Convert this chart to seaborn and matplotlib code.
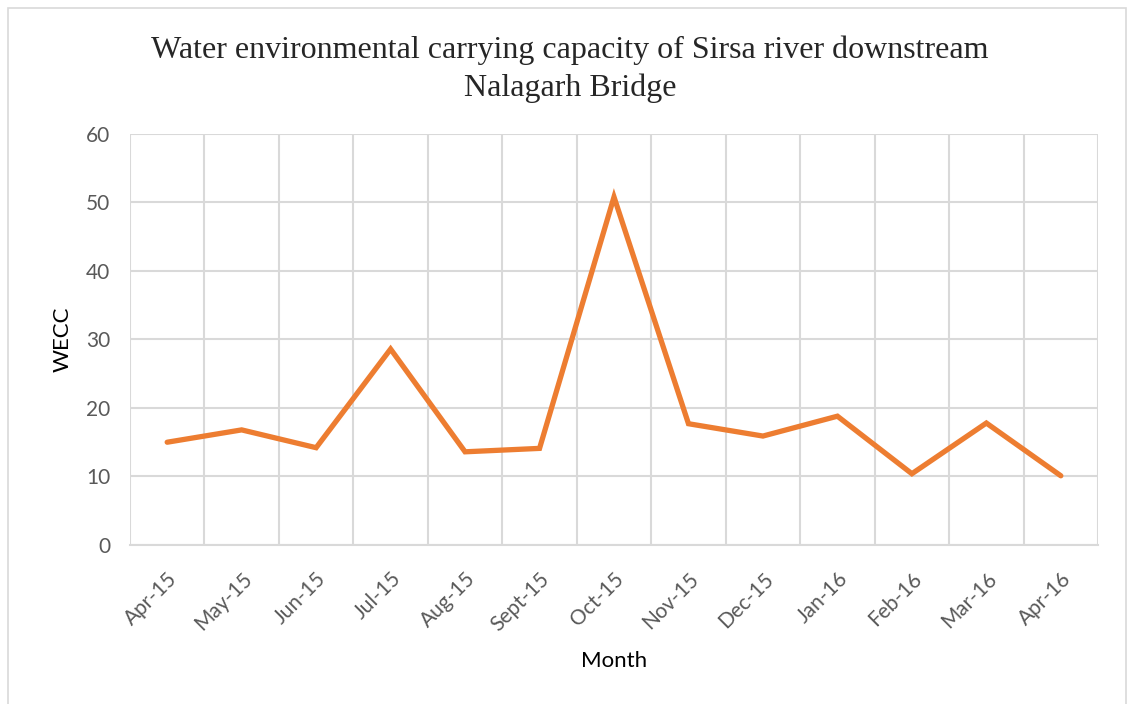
import seaborn as sns
import matplotlib.pyplot as plt
import pandas as pd
from matplotlib.patches import Rectangle
from matplotlib.ticker import MultipleLocator

# Data
months = ['Apr-15', 'May-15', 'Jun-15', 'Jul-15', 'Aug-15', 'Sept-15', 'Oct-15',
          'Nov-15', 'Dec-15', 'Jan-16', 'Feb-16', 'Mar-16', 'Apr-16']
wecc = [15.0, 16.8, 14.2, 28.6, 13.6, 14.1, 50.8, 17.7, 15.9, 18.8, 10.4, 17.8, 10.1]

df = pd.DataFrame({'Month': months, 'WECC': wecc})

sns.set_style('white')
plt.rcParams['font.family'] = ['Lato', 'DejaVu Sans']

fig = plt.figure(figsize=(11.29, 7.04), dpi=100)
ax = fig.add_axes([0.1151, 0.2259, 0.8575, 0.5838])

grid_col = '#d9d9d9'
sns.lineplot(data=df, x='Month', y='WECC', color='#ED7D31', linewidth=3.8,
             sort=False, ax=ax, solid_joinstyle='miter')

ax.set_xlim(-0.5, len(months) - 0.5)
ax.set_ylim(0, 60)
ax.yaxis.set_major_locator(MultipleLocator(10))
ax.set_xticks(range(len(months)))
ax.set_xticklabels(months, rotation=45, ha='right', rotation_mode='anchor')
ax.set_xticks([i - 0.5 for i in range(len(months) + 1)], minor=True)

ax.grid(axis='y', which='major', color=grid_col, linewidth=1.5)
ax.grid(axis='x', which='minor', color=grid_col, linewidth=1.5)
ax.set_axisbelow(True)
for s in ['top', 'right', 'left']:
    ax.spines[s].set_visible(False)
ax.spines['bottom'].set_color(grid_col)
ax.spines['bottom'].set_linewidth(1.5)

ax.tick_params(axis='both', which='both', length=0, labelsize=15, labelcolor='#595959')
ax.tick_params(axis='x', pad=17)
ax.tick_params(axis='y', pad=14)

ax.set_xlabel('Month', fontsize=16, color='black', labelpad=12)
ax.set_ylabel('WECC', fontsize=16, color='black', labelpad=10)

fig.suptitle('Water environmental carrying capacity of Sirsa river downstream\nNalagarh Bridge',
             x=0.505, y=0.949, fontsize=23, family='Liberation Serif', linespacing=1.35)

# chart border
fig.patches.append(Rectangle((0.007, -0.02), 0.99, 1.008, transform=fig.transFigure,
                             fill=False, edgecolor='#d9d9d9', linewidth=1.2))

fig.savefig('out.png', dpi=100)
